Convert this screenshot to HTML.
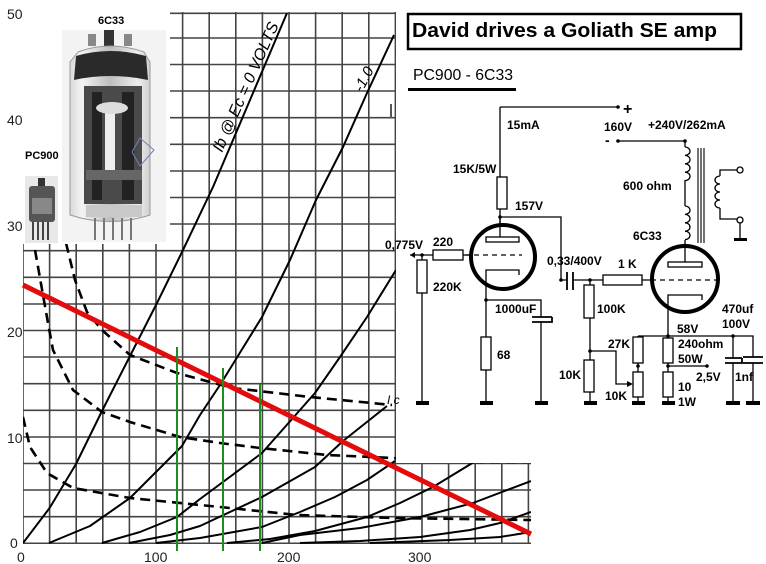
<!DOCTYPE html>
<html><head><meta charset="utf-8"><style>
html,body{margin:0;padding:0;background:#fff}
svg{display:block}
text{font-family:"Liberation Sans",Arial,sans-serif}
</style></head><body>
<svg width="766" height="564" viewBox="0 0 766 564" xmlns="http://www.w3.org/2000/svg">
<defs>
<clipPath id="gc"><polygon points="170,12 396,12 396,463 531,463 531,544 23,544 23,244 170,244"/></clipPath>
<linearGradient id="glass" x1="0" x2="1" y1="0" y2="0">
<stop offset="0" stop-color="#d8d8d8"/><stop offset="0.15" stop-color="#f4f4f4"/><stop offset="0.5" stop-color="#bdbdbd"/><stop offset="0.85" stop-color="#eeeeee"/><stop offset="1" stop-color="#cfcfcf"/></linearGradient>
</defs>
<rect width="766" height="564" fill="#fff"/>

<!-- GRID -->
<g clip-path="url(#gc)" stroke="#444" stroke-width="1.6">
<path d="M23,0V544M49.6,0V544M76.2,0V544M102.8,0V544M129.4,0V544M156,0V544M182.6,0V544M209.2,0V544M235.8,0V544M262.4,0V544M289,0V544M315.6,0V544M342.2,0V544M368.8,0V544M395.4,0V544M422,0V544M448.6,0V544M475.2,0V544M501.8,0V544M528.4,0V544"/>
<path d="M0,543.3H531M0,516.7H531M0,490H531M0,463.5H531M0,437H531M0,410.3H531M0,383.7H531M0,357H531M0,330.5H531M0,304H531M0,277.3H531M0,250.7H531M0,224H531M0,197.5H531M0,171H531M0,144.3H531M0,117.7H531M0,91H531M0,64.5H531M0,38H531M0,13.3H531"/>
</g>
<!-- curves -->
<g clip-path="url(#gc)" fill="none" stroke="#000" stroke-width="2" stroke-linejoin="round">
<polyline points="23,543 49.6,508 76,464 102,411 130,356 157,303 183,250 213,187 250,100 287,13"/>
<polyline points="49,543 90,526 130,498 160,468 182,446 200,415 220,385 262,317 290,260 316,200 343,147 367,93 394,35"/>
<polyline points="102,543 140,532 177,517 200,499 262,453 315,393 340,357 367,317 396,270"/>
<polyline points="129,543 170,535 200,526 262,497 315,467 343,441 387,406"/>
<polyline points="156,543 200,538 262,527 300,512 335,497 367,480 395,461"/>
<polyline points="227,543 270,539 315,531 367,517 400,503 433,487 474,462"/>
<polyline points="262,543 300,535 360,528 420,517 473,503 531,481"/>
<polyline points="300,543 360,541 420,537 470,530 500,523 531,512"/>
<polyline points="370,543 450,540 500,537 531,532"/>
</g>
<g clip-path="url(#gc)" fill="none" stroke="#000" stroke-width="2.6" stroke-dasharray="10,6">
<polyline points="66,243 75,280 87,312 102,330 130,355 177,373 210,382 233,388 310,397 392,405"/>
<polyline points="35,250 48,323 53,350 73,390 102,412 130,422 180,437 220,443 260,448 327,455 393,458 473,462 531,462"/>
<polyline points="23,417 30,447 47,473 73,488 130,498 220,507 297,515 393,518 531,520"/>
</g>
<text x="387" y="404" font-size="12" font-style="italic" font-family="Liberation Serif,serif">I c</text>
<!-- load line -->
<line x1="23" y1="285" x2="531" y2="534" stroke="#e30b0b" stroke-width="5"/>
<g stroke="#1e8c1e" stroke-width="2">
<line x1="177" y1="347" x2="177" y2="551"/><line x1="223" y1="368" x2="223" y2="551"/><line x1="260" y1="384" x2="260" y2="551"/>
</g>
<!-- curve labels -->
<text transform="translate(222,153) rotate(-66)" font-size="16" font-style="italic" font-family="Liberation Serif,serif" textLength="140">Ib @ Ec = 0 VOLTS</text>
<text transform="translate(362,93) rotate(-62)" font-size="15" font-style="italic" font-family="Liberation Serif,serif">-1.0</text>
<rect x="390" y="104" width="2" height="14" fill="#555"/>
<!-- axis labels -->
<g font-size="14" fill="#222">
<text x="7" y="19">50</text><text x="7" y="125">40</text><text x="7" y="231">30</text><text x="7" y="337">20</text><text x="7" y="443">10</text><text x="10" y="548">0</text>
<text x="17" y="562">0</text><text x="144" y="562">100</text><text x="277" y="562">200</text><text x="408" y="562">300</text>
</g>

<!-- photos -->
<text x="98" y="24" font-size="11" font-weight="bold" font-family="Liberation Serif,serif">6C33</text>
<text x="25" y="159" font-size="11" font-weight="bold" font-family="Liberation Serif,serif">PC900</text>
<rect x="62" y="30" width="104" height="212" fill="#f3f3f3"/>
<g>
<rect x="88" y="34" width="8" height="12" fill="#888"/><rect x="104" y="30" width="10" height="16" fill="#333"/><rect x="124" y="34" width="8" height="12" fill="#888"/>
<path d="M78,52 Q110,40 144,52 L150,62 L150,215 Q110,228 70,215 L70,62 Z" fill="url(#glass)" stroke="#999"/>
<path d="M76,56 Q110,46 146,56 L148,80 Q110,72 74,80 Z" fill="#2a2a2a"/>
<rect x="84" y="86" width="58" height="118" fill="#4a4a4a"/>
<rect x="92" y="92" width="10" height="108" fill="#222"/><rect x="122" y="92" width="12" height="108" fill="#222"/>
<rect x="105" y="110" width="10" height="60" fill="#eee"/><ellipse cx="112" cy="108" rx="16" ry="6" fill="#ddd"/>
<rect x="86" y="170" width="56" height="10" fill="#666"/>
<rect x="86" y="205" width="56" height="12" fill="#c8c8c8"/>
<path d="M95,218v22M104,218v22M113,218v22M122,218v22M131,218v22" stroke="#777" stroke-width="2"/>
<path d="M140,138 l14,12 l-14,16 l-8,-14 z" fill="none" stroke="#7080c0"/>
</g>
<rect x="25" y="176" width="33" height="67" fill="#e8e8e8"/>
<rect x="38" y="178" width="7" height="8" fill="#333"/>
<rect x="29" y="186" width="26" height="36" rx="3" fill="#555"/>
<rect x="32" y="198" width="20" height="16" fill="#888"/>
<path d="M33,222v18M38,222v18M43,222v18M48,222v18" stroke="#444" stroke-width="2"/>

<!-- title -->
<rect x="408" y="14" width="333" height="35" fill="none" stroke="#000" stroke-width="2.5"/>
<text x="412" y="37" font-size="20" font-weight="bold" textLength="305" lengthAdjust="spacingAndGlyphs">David drives a Goliath SE amp</text>
<text x="413" y="80" font-size="16" textLength="100" lengthAdjust="spacingAndGlyphs">PC900 - 6C33</text>
<line x1="408" y1="89.5" x2="516" y2="89.5" stroke="#000" stroke-width="3"/>

<!-- schematic -->
<g fill="none" stroke="#000" stroke-width="1.3">
<path d="M500,107H618M500,107V177M500,209V257"/>
<rect x="497" y="177" width="10" height="32" fill="#fff"/>
<path d="M500,217H561V280H567M573,280H603M642,280H651"/>
<path d="M567,272V290M573,272V290" stroke-width="1.8"/>
<!-- tube1 -->
<circle cx="503" cy="257" r="32" stroke-width="4" fill="#fff"/>
<path d="M500,217V237"/>
<rect x="486" y="237" width="33" height="5" fill="#fff"/>
<path d="M465,255H522" stroke-dasharray="5,4"/>
<path d="M486,300V270H519V275"/>
<path d="M486,300V337M486,370V403M486,300H541V317M541,322V403"/>
<rect x="481" y="337" width="10" height="33" fill="#fff"/>
<path d="M532,317H552M532,322H552V317" stroke-width="1.8"/>
<!-- input -->
<path d="M410,255H433M463,255H470M422,255V260M422,293V403"/>
<rect x="433" y="250" width="30" height="10" fill="#fff"/>
<rect x="417" y="260" width="10" height="33" fill="#fff"/>
<!-- interstage -->
<rect x="603" y="275" width="39" height="10" fill="#fff"/>
<path d="M590,280V285M590,318V360M590,392V403M590,351H616V384H631"/>
<rect x="584" y="285" width="10" height="33" fill="#fff"/>
<rect x="584" y="360" width="10" height="32" fill="#fff"/>
<path d="M638,336V337M638,363V372M638,397V403M638,336H753V357M753,363V403M733,336V358M733,363V403"/>
<rect x="633" y="337" width="10" height="26" fill="#fff"/>
<rect x="633" y="372" width="10" height="25" fill="#fff"/>
<path d="M725,358H742M725,363H742V358" stroke-width="1.8"/>
<path d="M743,357H763M743,363H763" stroke-width="1.8"/>
<!-- tube2 -->
<circle cx="685" cy="279" r="33" stroke-width="4" fill="#fff"/>
<rect x="668" y="262" width="34" height="5" fill="#fff"/>
<path d="M685,262V243"/>
<path d="M651,280H718" stroke-dasharray="5,4"/>
<path d="M668,336V295H702V300"/>
<path d="M668,336V338M668,363V372M668,397V403M668,366H707"/>
<rect x="663" y="338" width="10" height="25" fill="#fff"/>
<rect x="663" y="372" width="10" height="25" fill="#fff"/>
<!-- transformer -->
<path d="M618,141H685V147M685,180V206"/>
<path d="M685,147a5,4.2 0 1 1 0,8.4a5,4.2 0 1 1 0,8.4a5,4.2 0 1 1 0,8.4a5,4.2 0 1 1 0,8.4"/>
<path d="M685,206a5,4.2 0 1 1 0,8.4a5,4.2 0 1 1 0,8.4a5,4.2 0 1 1 0,8.4a5,4.2 0 1 1 0,8.4"/>
<path d="M685,240V244"/>
<path d="M698,148V243M701,148V243M704,148V243" stroke-width="1.1"/>
<path d="M739,170H720V176M720,176a5,4 0 1 0 0,8a5,4 0 1 0 0,8a5,4 0 1 0 0,8a5,4 0 1 0 0,8M720,208V219H739M740,223V239"/>
<circle cx="740" cy="170" r="3" fill="#fff"/><circle cx="740" cy="220" r="3" fill="#fff"/>
</g>
<g fill="#000">
<circle cx="618" cy="107" r="1.8"/><circle cx="618" cy="141" r="1.8"/><circle cx="685" cy="141" r="1.8"/>
<circle cx="500" cy="217" r="1.8"/><circle cx="486" cy="300" r="1.8"/><circle cx="422" cy="255" r="1.8"/><circle cx="561" cy="280" r="1.8"/>
<circle cx="590" cy="280" r="1.8"/><circle cx="590" cy="351" r="1.8"/><circle cx="668" cy="336" r="1.8"/><circle cx="733" cy="336" r="1.8"/>
<circle cx="638" cy="366" r="1.8"/><circle cx="668" cy="366" r="1.8"/><circle cx="707" cy="366" r="1.8"/>
<polygon points="410,255 415,252 415,258"/><polygon points="633,384 627,381 627,387"/>
<rect x="416" y="401" width="13" height="4"/><rect x="480" y="401" width="13" height="4"/><rect x="535" y="401" width="13" height="4"/>
<rect x="584" y="401" width="13" height="4"/><rect x="632" y="401" width="13" height="4"/><rect x="662" y="401" width="13" height="4"/>
<rect x="726" y="401" width="14" height="4"/><rect x="746" y="401" width="14" height="4"/><rect x="734" y="238" width="13" height="3"/>
</g>
<g font-size="12" font-weight="bold">
<text x="623" y="114" font-size="16">+</text><text x="605" y="145" font-size="14">-</text>
<text x="507" y="129">15mA</text><text x="453" y="173">15K/5W</text><text x="515" y="210">157V</text>
<text x="385" y="249">0,775V</text><text x="433" y="246">220</text><text x="433" y="291">220K</text>
<text x="495" y="313">1000uF</text><text x="497" y="359">68</text><text x="547" y="265">0,33/400V</text>
<text x="618" y="268">1 K</text><text x="597" y="313">100K</text><text x="559" y="379">10K</text>
<text x="608" y="348">27K</text><text x="605" y="400">10K</text><text x="677" y="333">58V</text>
<text x="678" y="348">240ohm</text><text x="678" y="363">50W</text><text x="696" y="381">2,5V</text>
<text x="678" y="391">10</text><text x="678" y="406">1W</text><text x="722" y="313">470uf</text>
<text x="722" y="328">100V</text><text x="735" y="381">1nf</text><text x="633" y="240">6C33</text>
<text x="623" y="190">600 ohm</text><text x="604" y="131">160V</text><text x="648" y="129">+240V/262mA</text>
</g>
</svg>
</body></html>
